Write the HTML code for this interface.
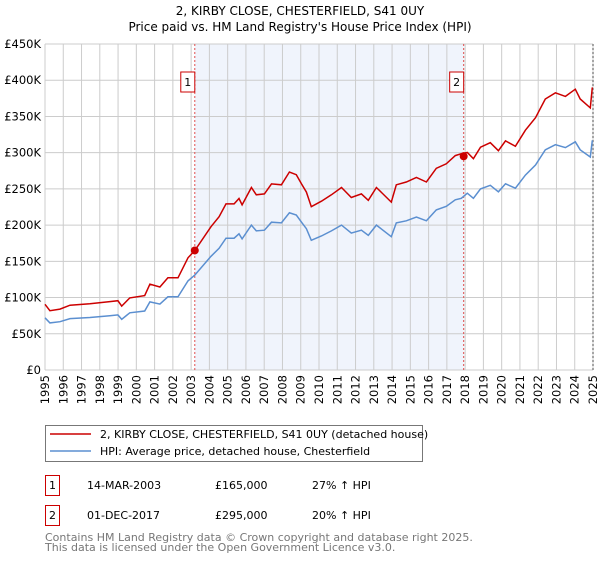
<!DOCTYPE html>
<html><head><meta charset="utf-8"><style>
body{margin:0;background:#fff;font-family:"DejaVu Sans","Liberation Sans",sans-serif}
svg text{font-family:"DejaVu Sans","Liberation Sans",sans-serif}
</style></head><body>
<svg width="600" height="560" xmlns="http://www.w3.org/2000/svg">
<g id="root"></g>
</svg>
<script>
const hpiDates=[1995,1995.27,1995.82,1996.37,1997.46,1998.55,1998.99,1999.2,1999.64,2000.46,2000.74,2001.29,2001.73,2002.28,2002.83,2003.2,2004.09,2004.53,2004.91,2005.35,2005.62,2005.79,2006.3,2006.57,2007.01,2007.4,2007.94,2008.38,2008.76,2009.04,2009.31,2009.58,2010.13,2010.68,2011.23,2011.77,2012.32,2012.7,2013.14,2013.96,2014.23,2014.78,2015.33,2015.88,2016.42,2016.97,2017.46,2017.79,2018.12,2018.45,2018.84,2019.38,2019.82,2020.21,2020.75,2021.3,2021.85,2022.39,2022.94,2023.49,2024.03,2024.3,2024.85,2024.96];
const hpiValues=[72,65,66.7,71,72.5,75,76,70,79,81.5,94,91,101,101,123,131,157,168,182,182,188,181,200,192,193,204,203,217,214,204,195,179,185,192,200,189,193,186,200,184,203,206,211,206,221,226,235,237,244,237,250,255,246,257,251,269,283,304,311,307,315,304,294,317];
const saleDates=[2003.2,2017.92];
const salePrices=[165,295];
const saleLabels=["1","2"];
const yTicks=[0,50,100,150,200,250,300,350,400,450];
const yTickLabels=["£0","£50K","£100K","£150K","£200K","£250K","£300K","£350K","£400K","£450K"];
const xTicks=[1995,1996,1997,1998,1999,2000,2001,2002,2003,2004,2005,2006,2007,2008,2009,2010,2011,2012,2013,2014,2015,2016,2017,2018,2019,2020,2021,2022,2023,2024,2025];

const L=45,R=593,T=44,B=370;
const X=d=>L+(d-1995)/30*(R-L);
const Y=v=>B-v/450*(B-T);
const NS="http://www.w3.org/2000/svg";
const root=document.getElementById('root');
function mk(tag,attrs,parent,text){const e=document.createElementNS(NS,tag);for(const k in attrs)e.setAttribute(k,attrs[k]);if(text!==undefined)e.textContent=text;(parent||root).appendChild(e);return e;}
function hpiAt(d){for(let i=0;i<hpiDates.length-1;i++){if(d<=hpiDates[i+1]){const t=(d-hpiDates[i])/(hpiDates[i+1]-hpiDates[i]);return hpiValues[i]+t*(hpiValues[i+1]-hpiValues[i]);}}return hpiValues[hpiValues.length-1];}

// title
let e=mk('text',{x:300,y:15,'text-anchor':'middle','font-size':12,fill:'#000'},root,"2, KIRBY CLOSE, CHESTERFIELD, S41 0UY");


e=mk('text',{x:300,y:31,'text-anchor':'middle','font-size':12,fill:'#000'},root,"Price paid vs. HM Land Registry's House Price Index (HPI)");



// shaded region
e=mk('rect',{x:X(saleDates[0]),y:T,width:X(saleDates[1])-X(saleDates[0]),height:B-T,fill:'#f0f4fc'});



// grid
yTicks.forEach((v,i)=>{
  let g=mk('line',{x1:L,x2:R,y1:Y(v),y2:Y(v),stroke:'#cccccc','stroke-width':1});
  
  
  let t=mk('text',{x:L-4,y:Y(v)+4,'text-anchor':'end','font-size':11.5,fill:'#000'},root,yTickLabels[i]);
  
  
});
xTicks.forEach(d=>{
  let g=mk('line',{x1:X(d),x2:X(d),y1:T,y2:B,stroke:'#cccccc','stroke-width':1});
  
  
  let t=mk('text',{x:0,y:0,'text-anchor':'end','font-size':11.5,fill:'#000',transform:`translate(${X(d)+4},${B+5}) rotate(-90)`},root,String(d));
  
  
});
e=mk('line',{x1:R,x2:R,y1:T,y2:B,stroke:'#888','stroke-width':1.5,'stroke-dasharray':'2,2'});



// sale lines
saleDates.forEach((d,i)=>{
  let l=mk('line',{x1:X(d),x2:X(d),y1:T,y2:B,stroke:'#e05050','stroke-width':1,'stroke-dasharray':'2,2'});
  
  
  let bx=mk('rect',{x:X(d)-14,y:72,width:14,height:20,fill:'#fff',stroke:'#cc0000','stroke-width':1});
  
  
  let t=mk('text',{x:X(d)-7,y:86,'text-anchor':'middle','font-size':11,fill:'#000'},root,saleLabels[i]);
  
  
});

// HPI line
let p='';hpiDates.forEach((d,i)=>{p+=(i?'L':'M')+X(d).toFixed(1)+','+Y(hpiValues[i]).toFixed(1);});
e=mk('path',{d:p,fill:'none',stroke:'#5b8fd0','stroke-width':1.5});



// price line (sale price indexed by HPI)
p='';hpiDates.forEach((d,i)=>{
  let k=0;for(let j=0;j<saleDates.length;j++)if(d>=saleDates[j])k=j;
  const v=salePrices[k]*hpiValues[i]/hpiAt(saleDates[k]);
  p+=(i?'L':'M')+X(d).toFixed(1)+','+Y(v).toFixed(1);
});
e=mk('path',{d:p,fill:'none',stroke:'#cc0000','stroke-width':1.5});


saleDates.forEach((d,i)=>{
  let c=mk('circle',{cx:X(d),cy:Y(salePrices[i]),r:4,fill:'#cc0000'});
  
  
});

// legend
e=mk('rect',{x:45.5,y:425.5,width:377,height:36,fill:'#fff',stroke:'#777','stroke-width':1});


e=mk('line',{x1:50,x2:91,y1:434,y2:434,stroke:'#cc0000','stroke-width':1.5});


e=mk('text',{x:100,y:438,'font-size':11,fill:'#000'},root,"2, KIRBY CLOSE, CHESTERFIELD, S41 0UY (detached house)");


e=mk('line',{x1:50,x2:91,y1:451,y2:451,stroke:'#5b8fd0','stroke-width':1.5});


e=mk('text',{x:100,y:455,'font-size':11,fill:'#000'},root,"HPI: Average price, detached house, Chesterfield");



// table
const rows=[["1","14-MAR-2003","£165,000","27% ↑ HPI",475],["2","01-DEC-2017","£295,000","20% ↑ HPI",505]];
rows.forEach(r=>{
  let b=mk('rect',{x:45.5,y:r[4]+0.5,width:14,height:20,fill:'#fff',stroke:'#cc0000','stroke-width':1});
  
  
  let t=mk('text',{x:52.5,y:r[4]+14,'text-anchor':'middle','font-size':11,fill:'#000'},root,r[0]);
  
  
  t=mk('text',{x:87,y:r[4]+14,'font-size':11,fill:'#000'},root,r[1]);
  
  
  t=mk('text',{x:215,y:r[4]+14,'font-size':11,fill:'#000'},root,r[2]);
  
  
  t=mk('text',{x:312,y:r[4]+14,'font-size':11,fill:'#000'},root,r[3]);
  
  
});
e=mk('text',{x:45,y:541,'font-size':11,fill:'#777'},root,"Contains HM Land Registry data © Crown copyright and database right 2025.");


e=mk('text',{x:45,y:551,'font-size':11,fill:'#777'},root,"This data is licensed under the Open Government Licence v3.0.");


</script>
</body></html>
